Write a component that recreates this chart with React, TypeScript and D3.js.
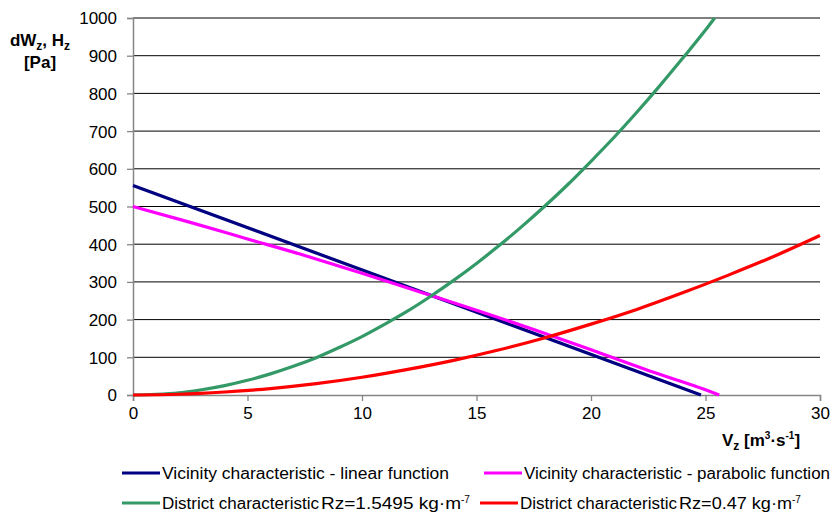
import { useEffect, useRef } from "react";
import * as d3 from "d3";

// values
const linearX = [0, 24.8];
const linearY = [556, 0];

const parabolicX = [0, 2.5, 5, 7.5, 10, 12.5, 15, 17.5, 20, 22.5, 25, 25.6];
const parabolicY = [500, 458, 414, 370, 323, 274, 225, 174, 120, 65, 14, 0];

const greenX = [0, 1, 2, 3, 4, 5, 6, 7, 8, 9, 10, 11, 12, 13, 14, 15, 16, 17, 18, 19, 20, 21, 22, 23, 24, 25, 25.4];
const greenY = [0, 2, 6, 14, 25, 39, 56, 76, 99, 126, 155, 188, 223, 262, 304, 349, 397, 448, 502, 559, 620, 683, 750, 820, 893, 968, 1000];

const redX = [0, 2, 4, 6, 8, 10, 12, 14, 16, 18, 20, 22, 24, 26, 28, 30];
const redY = [0, 2, 8, 17, 30, 47, 68, 92, 120, 152, 188, 227, 271, 318, 368, 423];

const xTicks = [0, 5, 10, 15, 20, 25, 30];
const yTicks = [0, 100, 200, 300, 400, 500, 600, 700, 800, 900, 1000];

const series = [
  { name: "Vicinity characteristic - linear function", xs: linearX, ys: linearY, color: "#000080" },
  { name: "Vicinity characteristic - parabolic function", xs: parabolicX, ys: parabolicY, color: "#ff00ff" },
  { name: "District characteristic", sub: "Rz=1.5495 kg·m", xs: greenX, ys: greenY, color: "#339966" },
  { name: "District characteristic", sub: "Rz=0.47 kg·m", xs: redX, ys: redY, color: "#ff0000" },
];

const W = 834;
const H = 512;
const margin = { top: 18, right: 14, bottom: 117, left: 133 };

const App = () => {
  const ref = useRef<SVGSVGElement>(null);

  useEffect(() => {
    if (!ref.current) return;
    const svg = d3.select(ref.current);
    svg.selectAll("*").remove();
    const font = "'Liberation Sans', Arial, sans-serif";

    const x = d3.scaleLinear().domain([0, 30]).range([margin.left, W - margin.right]);
    const y = d3.scaleLinear().domain([0, 1000]).range([H - margin.bottom, margin.top]);

    // gridlines
    svg
      .append("g")
      .selectAll("line")
      .data(yTicks.slice(1))
      .join("line")
      .attr("x1", x(0))
      .attr("x2", x(30))
      .attr("y1", d => y(d))
      .attr("y2", d => y(d))
      .attr("stroke", "#000")
      .attr("stroke-width", 1);

    const xAxis = svg
      .append("g")
      .attr("transform", `translate(0,${y(0)})`)
      .call(d3.axisBottom(x).tickValues(xTicks).tickFormat(d3.format("d")).tickSize(6).tickPadding(6));
    const yAxis = svg
      .append("g")
      .attr("transform", `translate(${x(0)},0)`)
      .call(d3.axisLeft(y).tickValues(yTicks).tickFormat(d3.format("d")).tickSize(6).tickPadding(10));

    [xAxis, yAxis].forEach(a => {
      a.select(".domain").attr("stroke", "#868686").attr("stroke-width", 1.5);
      a.selectAll(".tick line").attr("stroke", "#868686").attr("stroke-width", 1.3);
      a.selectAll(".tick text")
        .attr("font-family", font)
        .attr("font-size", 17)
        .attr("fill", "#000");
    });
    yAxis.selectAll(".tick text").attr("dy", "0.35em");

    // series
    series.forEach(s => {
      const pts = s.xs.map((v, i) => [v, s.ys[i]] as [number, number]);
      const line = d3
        .line<[number, number]>()
        .x(d => x(d[0]))
        .y(d => y(d[1]))
        .curve(d3.curveMonotoneX);
      svg
        .append("path")
        .datum(pts)
        .attr("fill", "none")
        .attr("stroke", s.color)
        .attr("stroke-width", 3.2)
        .attr("stroke-linejoin", "round")
        .attr("d", line);
    });

    // y label
    const yl = svg
      .append("text")
      .attr("font-family", font)
      .attr("font-size", 17)
      .attr("font-weight", "bold")
      .attr("text-anchor", "middle");
    const yl1 = yl.append("tspan").attr("x", 40).attr("y", 46);
    yl1.append("tspan").text("dW");
    yl1.append("tspan").attr("font-size", 12).attr("dy", 4).text("z");
    yl1.append("tspan").attr("dy", -4).text(", H");
    yl1.append("tspan").attr("font-size", 12).attr("dy", 4).text("z");
    yl.append("tspan").attr("x", 40).attr("y", 68).text("[Pa]");

    // x label
    const xl = svg
      .append("text")
      .attr("font-family", font)
      .attr("font-size", 17)
      .attr("font-weight", "bold")
      .attr("x", 722)
      .attr("y", 446);
    xl.append("tspan").text("V");
    xl.append("tspan").attr("font-size", 12).attr("dy", 4).text("z");
    xl.append("tspan").attr("dy", -4).text(" [m");
    xl.append("tspan").attr("font-size", 10).attr("dy", -7).text("3");
    xl.append("tspan").attr("dy", 7).text("·s");
    xl.append("tspan").attr("font-size", 10).attr("dy", -7).text("-1");
    xl.append("tspan").attr("dy", 7).text("]");

    // legend
    const legendPos = [
      { lx: 122, ty: 473, w: 287 },
      { lx: 484, ty: 473, w: 306 },
      { lx: 122, ty: 503, w: 311 },
      { lx: 480, ty: 503, w: 283 },
    ];
    series.forEach((s, i) => {
      const p = legendPos[i];
      svg
        .append("line")
        .attr("x1", p.lx)
        .attr("x2", p.lx + 38)
        .attr("y1", p.ty)
        .attr("y2", p.ty)
        .attr("stroke", s.color)
        .attr("stroke-width", 3.2);
      const t = svg
        .append("text")
        .attr("font-family", font)
        .attr("font-size", 16)
        .attr("x", p.lx + 40)
        .attr("y", p.ty + 6);
      if (!s.sub) {
        t.attr("textLength", p.w).attr("lengthAdjust", "spacingAndGlyphs").text(s.name);
      } else {
        t.append("tspan").attr("textLength", 157).attr("lengthAdjust", "spacingAndGlyphs").text(s.name);
        t.append("tspan")
          .attr("dx", 2)
          .attr("textLength", i === 2 ? 140 : 113)
          .attr("lengthAdjust", "spacingAndGlyphs")
          .text(s.sub);
        t.append("tspan").attr("font-size", 10).attr("dy", -6).text("-7");
      }
    });
  }, []);

  return (
    <svg
      ref={ref}
      width={W}
      height={H}
      style={{ position: "absolute", left: 0, top: 0, background: "#fff" }}
    />
  );
};

export default App;
